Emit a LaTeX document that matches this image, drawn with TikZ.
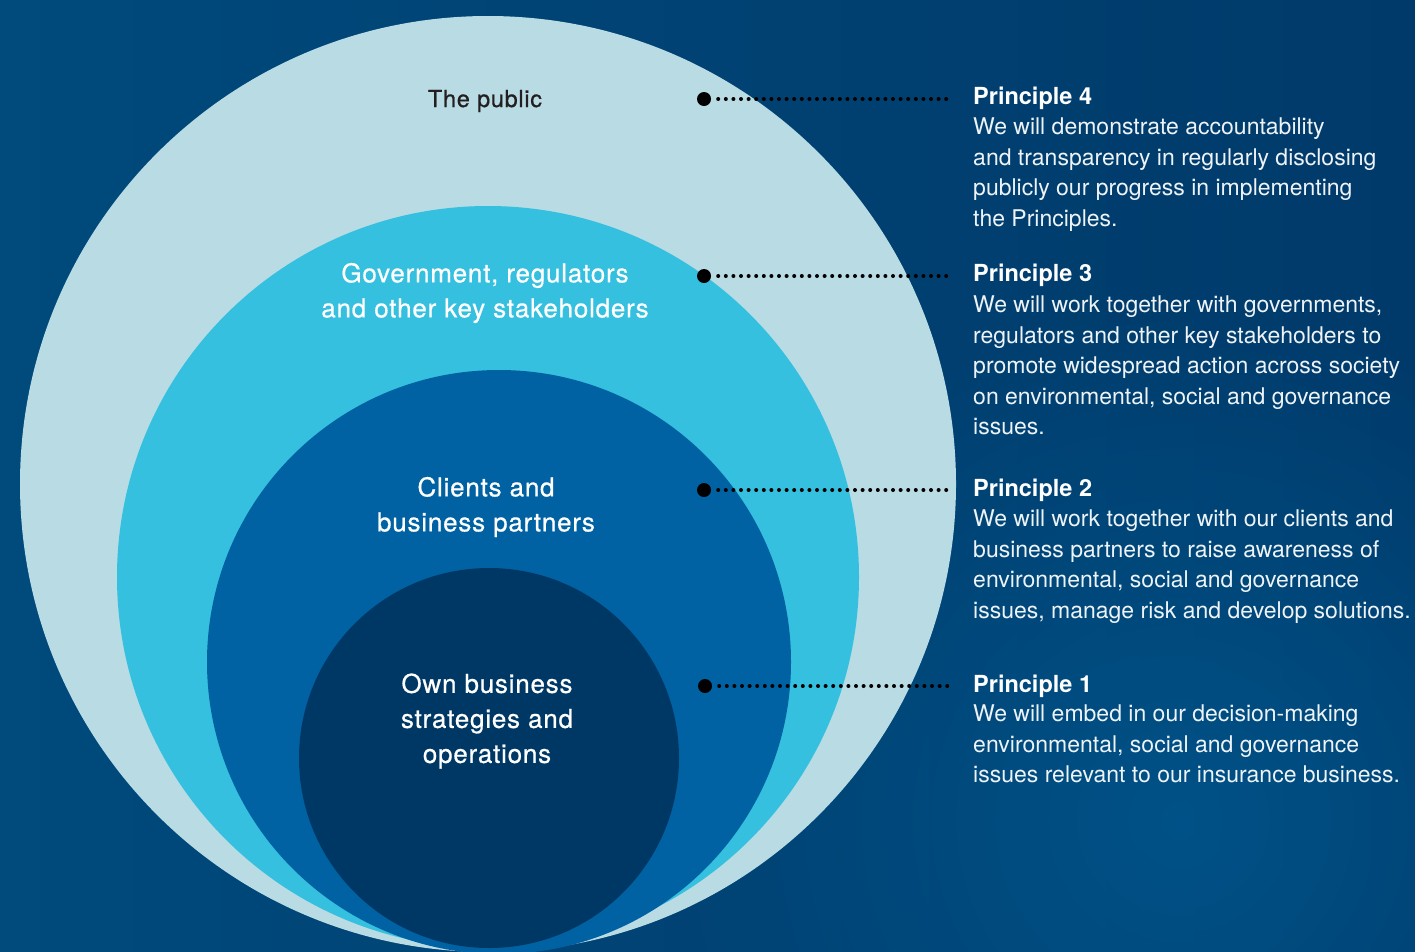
\documentclass[tikz,border=0pt]{standalone}
\usepackage{fontspec}
\setmainfont{TeX Gyre Heros}
\newfontfamily\lblfont{TeX Gyre Heros}[FakeBold=0.6, LetterSpace=3]
\usetikzlibrary{fadings}
\tikzfading[name=glowfade, inner color=transparent!0, outer color=transparent!100]
\definecolor{bgL}{HTML}{004A7C}
\definecolor{bgR}{HTML}{003A6A}
\definecolor{bgGlow}{HTML}{00578E}
\definecolor{cPublic}{HTML}{B9DBE4}
\definecolor{cGov}{HTML}{35C0DF}
\definecolor{cClient}{HTML}{0062A3}
\definecolor{cOwn}{HTML}{003865}
\definecolor{darktext}{HTML}{231F20}
\definecolor{bodytext}{HTML}{EEF3F7}
\tikzset{
  ringlabel/.style={align=center, inner sep=0pt, font=\lblfont\fontsize{26}{35}\selectfont},
  heading/.style={anchor=west, inner sep=0pt, text=white, font=\fontsize{23.5}{30.5}\selectfont\bfseries},
  bodyt/.style={anchor=north west, inner sep=0pt, text=bodytext, align=left, font=\fontsize{23}{30.5}\selectfont},
  bullet/.style={circle, fill=black, minimum size=14pt, inner sep=0pt},
  leader/.style={draw=black, line width=4pt, line cap=round, dash pattern=on 0pt off 7.6pt, shorten <=7pt}
}
\begin{document}
\begin{tikzpicture}[x=1pt,y=-1pt]
\useasboundingbox (0,0) rectangle (1415,951);
\begin{scope}
\clip (0,0) rectangle (1415,951);
\shade[left color=bgL, right color=bgR] (0,0) rectangle (1415,951);
\fill[bgGlow, path fading=glowfade, opacity=0.8] (1180,820) circle (520pt);
\fill[cPublic] (488,484) circle (468pt);
\fill[cGov] (488,577) circle (371pt);
\fill[cClient] (499,662) circle (292pt);
\fill[cOwn] (489,758) circle (190pt);
\end{scope}

% ring labels
\node[ringlabel, text=darktext, font=\lblfont\fontsize{23.5}{30}\selectfont] (lpub) at (485,101) {The public};
\node[ringlabel, text=white] (lgov) at (485,293) {Government, regulators\\and other key stakeholders};
\node[ringlabel, text=white] (lcli) at (486,507) {Clients and\\business partners};
\node[ringlabel, text=white] (lown) at (487,721) {Own business\\strategies and\\operations};

% bullets and leaders
\node[bullet] (d4) at (704,99) {};
\node[bullet] (d3) at (704,276) {};
\node[bullet] (d2) at (704,490) {};
\node[bullet] (d1) at (705,686) {};
\coordinate (e4) at (951,99);
\coordinate (e3) at (951,276);
\coordinate (e2) at (951,490);
\coordinate (e1) at (952,686);
\draw[leader] (d4) -- (e4);
\draw[leader] (d3) -- (e3);
\draw[leader] (d2) -- (e2);
\draw[leader] (d1) -- (e1);

% principles
\node[heading] (h4) at (973,98) {Principle 4};
\node[bodyt] (b4) at (973,118) {We will demonstrate accountability\\and transparency in regularly disclosing\\publicly our progress in implementing\\the Principles.};
\node[heading] (h3) at (973,275) {Principle 3};
\node[bodyt] (b3) at (973,296) {We will work together with governments,\\regulators and other key stakeholders to\\promote widespread action across society\\on environmental, social and governance\\issues.};
\node[heading] (h2) at (973,490) {Principle 2};
\node[bodyt] (b2) at (973,510) {We will work together with our clients and\\business partners to raise awareness of\\environmental, social and governance\\issues, manage risk and develop solutions.};
\node[heading] (h1) at (973,686) {Principle 1};
\node[bodyt] (b1) at (973,705) {We will embed in our decision-making\\environmental, social and governance\\issues relevant to our insurance business.};
\end{tikzpicture}
\end{document}
